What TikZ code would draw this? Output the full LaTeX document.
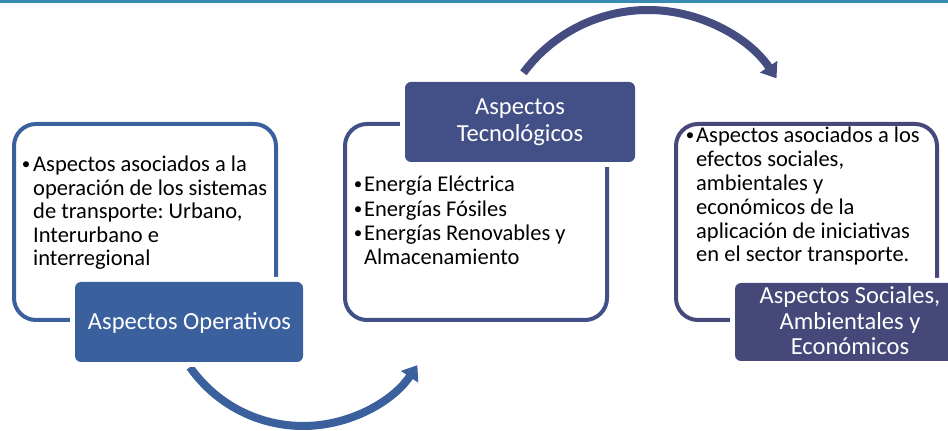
\documentclass[tikz,border=0pt]{standalone}
\usepackage{fontspec}
\setmainfont{Carlito}
\frenchspacing
\usetikzlibrary{arrows.meta}
\definecolor{cop}{RGB}{59,96,158}
\definecolor{ctec}{RGB}{67,80,135}
\definecolor{csoc}{RGB}{69,72,120}
\definecolor{carc}{RGB}{68,76,128}
\definecolor{ctop}{RGB}{58,138,178}
\tikzset{
  outlinebox/.style={draw=#1, line width=4pt, rounded corners=22pt},
  titlebox/.style={fill=#1, rounded corners=6pt, preaction={draw=white, line width=10pt, rounded corners=6pt}},
  bodytext/.style={anchor=base west, inner sep=0pt, text=black},
  bullettext/.style={anchor=base, inner sep=0pt, text=black},
  titletext/.style={anchor=base, inner sep=0pt, text=white},
  arcarrow/.style={draw=#1, line width=8pt, -{Triangle[width=20pt,length=14pt]}}
}
\newcommand{\bodyfont}{\frenchspacing\fontsize{22.5}{23.5}\selectfont\lineskiplimit=-100pt}
\newcommand{\titlefont}[1]{\fontsize{24.5}{#1}\selectfont\lineskiplimit=-100pt}
\newcommand{\bul}{{\fontsize{17}{17}\selectfont •}}
\begin{document}
\begin{tikzpicture}[x=1pt,y=1pt]
\useasboundingbox (0,0) rectangle (948,431);
\clip (0,0) rectangle (948,431);
\fill[white] (0,0) rectangle (948,431);
% top rule
\fill[ctop] (0,428) rectangle (948,431);

% arcs
\coordinate (arcAstart) at ({303+138*cos(215)},{143+138*sin(215)});
\draw[arcarrow=cop] (arcAstart) arc[start angle=215, end angle=326, radius=138];
\coordinate (arcBstart) at ({648+155*cos(143.5)},{266+155*sin(143.5)});
\draw[arcarrow=carc] (arcBstart) arc[start angle=143.5, end angle=34, radius=155];

% outline boxes
\draw[outlinebox=cop] (14,111) rectangle (276,307);
\draw[outlinebox=ctec] (345,111) rectangle (607,307);
\draw[outlinebox=csoc] (676,111) rectangle (937,307);

% title boxes
\fill[titlebox=cop] (75,69) rectangle (303,149);
\fill[titlebox=ctec] (405,269) rectangle (635,349);
\fill[titlebox=csoc] (735,70) rectangle (965,148);

% body texts
\node[bullettext] (b1) at (26,261) {\bul};
\node[bodytext] (t1) at (33,259) {\parbox[t]{240pt}{\bodyfont Aspectos asociados a la\\operación de los sistemas\\de transporte: Urbano,\\Interurbano e\\interregional}};

\node[bullettext] (b2a) at (358,241) {\bul};
\node[bullettext] (b2b) at (358,216.7) {\bul};
\node[bullettext] (b2c) at (358,192.4) {\bul};
\node[bodytext] (t2) at (364,239) {\parbox[t]{240pt}{\frenchspacing\fontsize{22.5}{24.3}\selectfont\lineskiplimit=-100pt Energía Eléctrica\\Energías Fósiles\\Energías Renovables y\\Almacenamiento}};

\node[bullettext] (b3) at (690,290) {\bul};
\node[bodytext] (t3) at (696,288) {\parbox[t]{240pt}{\frenchspacing\fontsize{22.5}{23.8}\selectfont\lineskiplimit=-100pt Aspectos asociados a los\\efectos sociales,\\ambientales y\\económicos de la\\aplicación de iniciativas\\en el sector transporte.}};

% title texts
\node[titletext] (op) at (189.5,101) {\titlefont{27}Aspectos Operativos};
\node[titletext] (tec) at (520,316) {\parbox[t]{230pt}{\centering\titlefont{27}Aspectos\\Tecnológicos}};
\node[titletext] (soc) at (850,127) {\parbox[t]{230pt}{\centering\titlefont{25.5}Aspectos Sociales,\\Ambientales y\\Económicos}};
\end{tikzpicture}
\end{document}
